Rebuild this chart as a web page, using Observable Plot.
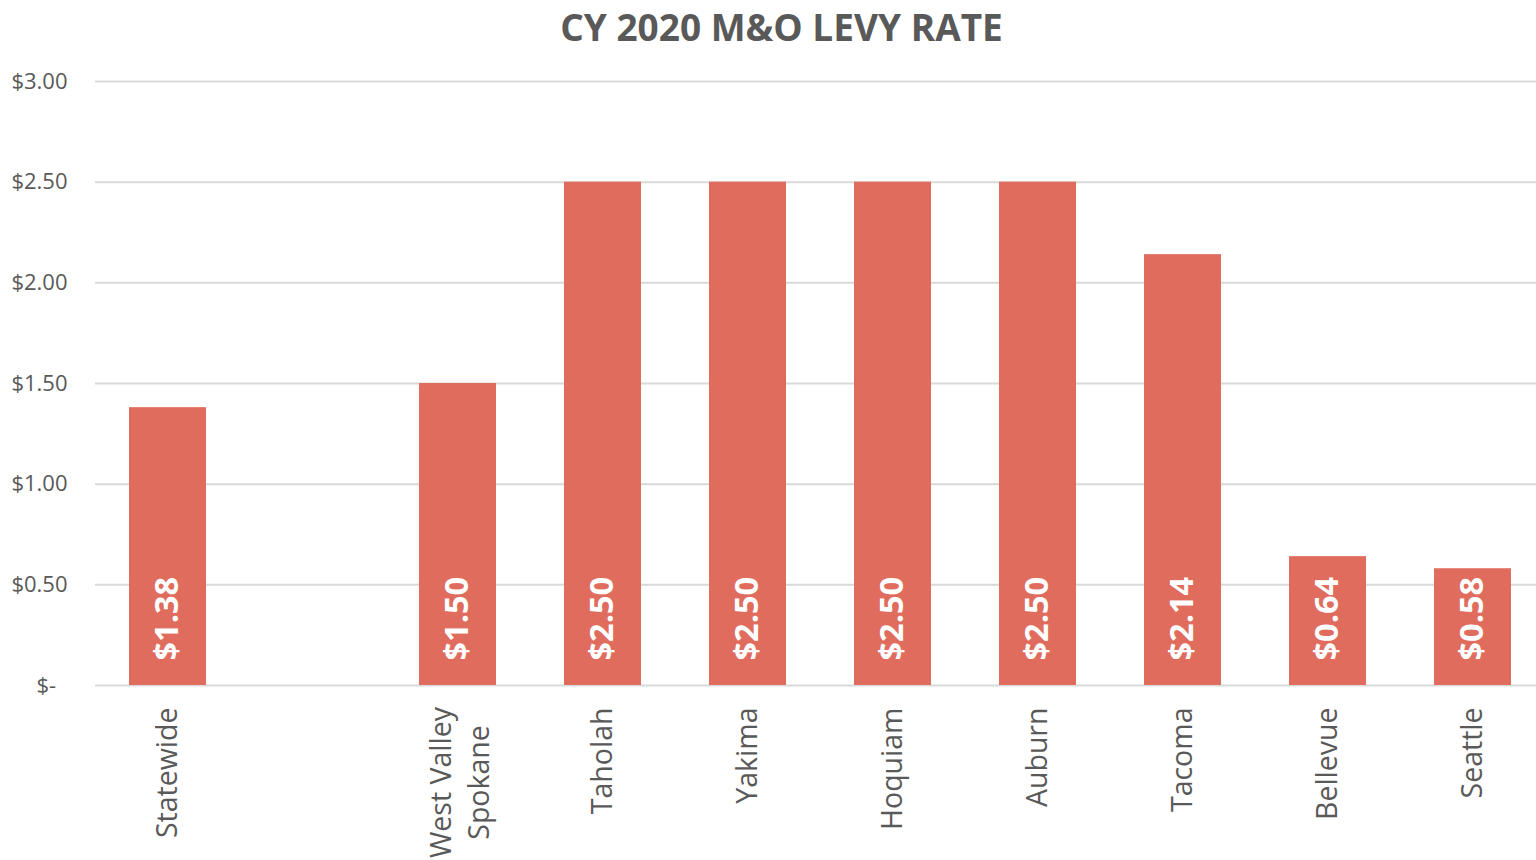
<!DOCTYPE html>
<html>
<head>
<meta charset="utf-8">
<script src="https://cdn.jsdelivr.net/npm/d3@7"></script>
<script src="https://cdn.jsdelivr.net/npm/@observablehq/plot@0.6"></script>
<style>
  html, body { margin: 0; padding: 0; background: #fff; overflow: hidden; width: 1536px; height: 860px; }
  #chart svg { display: block; }
</style>
</head>
<body>
<div id="chart"></div>
<script>
const title = "CY 2020 M&O LEVY RATE";
const categories = ["Statewide", " ", "West Valley\nSpokane", "Taholah", "Yakima", "Hoquiam", "Auburn", "Tacoma", "Bellevue", "Seattle"];
const values = [1.38, null, 1.50, 2.50, 2.50, 2.50, 2.50, 2.14, 0.64, 0.58];
const yTicks = [0, 0.5, 1.0, 1.5, 2.0, 2.5, 3.0];

const data = categories.map((c, i) => ({name: c, value: values[i]})).filter(d => d.value != null);
const singleLabels = categories.filter(c => c.trim() !== "" && !c.includes("\n"));
const multiLabels = categories.filter(c => c.includes("\n"));

const gray = "#595959";
const barColor = "#E06C5D";
const font = "'Open Sans', sans-serif";

const chart = Plot.plot({
  width: 1545,
  height: 860,
  marginLeft: 95,
  marginRight: 0,
  marginTop: 81,
  marginBottom: 175,
  style: {fontFamily: font, background: "white", overflow: "visible", maxWidth: "none"},
  x: {domain: categories, paddingInner: 68 / 145, paddingOuter: 34 / 145, axis: null},
  y: {domain: [0, 3], axis: null},
  marks: [
    Plot.gridY(yTicks, {stroke: "#D9D9D9", strokeOpacity: 1, strokeWidth: 2}),
    Plot.barY(data, {x: "name", y: "value", fill: barColor}),
    Plot.axisY(yTicks, {
      tickSize: 0, tickPadding: 28, fontSize: 22, fill: gray, label: null,
      tickFormat: d => d === 0 ? "$-\u00a0\u00a0" : "$" + d.toFixed(2)
    }),
    Plot.text(data, {
      x: "name", y: 0, text: d => "$" + d.value.toFixed(2),
      rotate: -90, textAnchor: "start", lineAnchor: "middle", dy: -25,
      fill: "white", fontWeight: "bold", fontSize: 32.5
    }),
    Plot.text(singleLabels, {
      x: d => d, text: d => d, frameAnchor: "bottom",
      rotate: -90, textAnchor: "end", lineAnchor: "middle", dy: 22,
      fill: gray, fontSize: 28.5
    }),
    Plot.text(multiLabels, {
      x: d => d, text: d => d, frameAnchor: "bottom",
      rotate: -90, textAnchor: "middle", lineAnchor: "middle", lineHeight: 1.33, dy: 97,
      fill: gray, fontSize: 28.5
    }),
    Plot.text([title], {
      text: d => d, frameAnchor: "top", lineAnchor: "bottom", textAnchor: "middle",
      dx: -39, dy: -41, fill: gray, fontWeight: "bold", fontSize: 37
    })
  ]
});
document.getElementById("chart").appendChild(chart);
</script>
</body>
</html>
